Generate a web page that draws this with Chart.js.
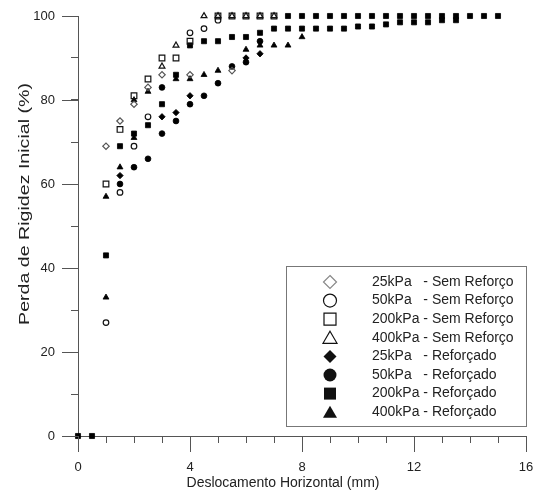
<!DOCTYPE html>
<html>
<head>
<meta charset="utf-8">
<script src="https://cdn.jsdelivr.net/npm/chart.js@4.4.0/dist/chart.umd.min.js"></script>
<style>
    html, body { margin: 0; padding: 0; background: #fff; }
</style>
</head>
<body>
<canvas id="chart" width="537" height="494"></canvas>
<script>
// values: [deslocamento (mm), perda de rigidez (%)]
const sr25 = [[1, 69], [1.5, 75], [2, 79], [2.5, 83], [3, 86], [4, 86], [5.5, 87]];
const sr50 = [[1, 27], [1.5, 58], [2, 69], [2.5, 76], [4, 96], [4.5, 97], [5, 99]];
const sr200 = [[1, 60], [1.5, 73], [2, 81], [2.5, 85], [3, 90], [3.5, 90], [4, 94],
    [5, 100], [5.5, 100], [6, 100], [6.5, 100], [7, 100]];
const sr400 = [[3, 88], [3.5, 93], [4.5, 100], [5, 100], [5.5, 100], [6, 100], [6.5, 100], [7, 100]];
const r25 = [[1.5, 62], [3, 76], [3.5, 77], [4, 81], [6, 90], [6.5, 91]];
const r50 = [[1.5, 60], [2, 64], [2.5, 66], [3, 72], [3, 83], [3.5, 75], [4, 79], [4.5, 81],
    [5, 84], [5.5, 88], [6, 89], [6.5, 94]];
const r200 = [[0, 0], [0.5, 0], [1, 43], [1.5, 69], [2, 72], [2.5, 74], [3, 79], [3.5, 86],
    [4, 93], [4.5, 94], [5, 94], [5.5, 95], [6, 95], [6.5, 96], [7, 97], [7.5, 97], [8, 97],
    [8.5, 97], [9, 97], [9.5, 97], [10, 97.5], [10.5, 97.5], [11, 98], [11.5, 98.5], [12, 98.5],
    [12.5, 98.5], [13, 99], [13.5, 99]];
const r200Top = [[7.5, 100], [8, 100], [8.5, 100], [9, 100], [9.5, 100], [10, 100], [10.5, 100],
    [11, 100], [11.5, 100], [12, 100], [12.5, 100], [13, 100], [13.5, 100], [14, 100],
    [14.5, 100], [15, 100]];
const r400 = [[1, 57], [1, 33], [1.5, 64], [2, 71], [2, 80], [2.5, 82], [3.5, 85], [4, 85],
    [4.5, 86], [5, 87], [6, 92], [6.5, 93], [7, 93], [7.5, 93], [8, 95]];

const labels = [
    "25kPa   - Sem Reforço",
    "50kPa   - Sem Reforço",
    "200kPa - Sem Reforço",
    "400kPa - Sem Reforço",
    "25kPa   - Reforçado",
    "50kPa   - Reforçado",
    "200kPa - Reforçado",
    "400kPa - Reforçado",
];
const xTitle = "Deslocamento Horizontal (mm)";
const yTitle = "Perda de Rigidez Inicial (%)";

const FONT = "'Liberation Sans', Arial, sans-serif";

function pts(list) {
    return list.map((p) => ({ x: p[0], y: p[1] }));
}

function series(label, data, style, filled, radius, color) {
    return {
        label: label,
        data: pts(data),
        showLine: false,
        clip: false,
        pointStyle: style,
        pointRadius: radius,
        pointHoverRadius: radius,
        pointBackgroundColor: filled ? color : "rgba(0,0,0,0)",
        pointBorderColor: color,
        pointBorderWidth: filled ? 0.8 : 1.2,
        filled: filled,
    };
}

const datasets = [
    series(labels[0], sr25, "rectRot", false, 3.2, "#555"),
    series(labels[1], sr50, "circle", false, 2.8, "#111"),
    series(labels[2], sr200, "rect", false, 4, "#111"),
    series(labels[3], sr400, "triangle", false, 3.4, "#111"),
    series(labels[4], r25, "rectRot", true, 3.2, "#000"),
    series(labels[5], r50, "circle", true, 2.9, "#000"),
    series(labels[6], r200.concat(r200Top), "rect", true, 3.6, "#000"),
    series(labels[7], r400, "triangle", true, 3.4, "#000"),
];

// legend marker, drawn by hand inside the box
function drawMark(ctx, style, x, y, filled, color) {
    ctx.beginPath();
    if (style === "rect") {
        ctx.rect(x - 6, y - 6, 12, 12);
    } else if (style === "circle") {
        ctx.arc(x, y, 6.5, 0, Math.PI * 2);
    } else if (style === "rectRot") {
        ctx.moveTo(x, y - 6.5);
        ctx.lineTo(x + 6.5, y);
        ctx.lineTo(x, y + 6.5);
        ctx.lineTo(x - 6.5, y);
        ctx.closePath();
    } else {
        ctx.moveTo(x, y - 6.5);
        ctx.lineTo(x + 7, y + 5.5);
        ctx.lineTo(x - 7, y + 5.5);
        ctx.closePath();
    }
    if (filled) {
        ctx.fillStyle = color;
        ctx.fill();
    } else {
        ctx.strokeStyle = style === "rectRot" ? "#888" : color;
        ctx.lineWidth = 1.2;
        ctx.stroke();
    }
}

const boxLegend = {
    id: "boxLegend",
    afterDraw(chart) {
        const ctx = chart.ctx;
        ctx.save();
        ctx.strokeStyle = "#777";
        ctx.lineWidth = 1;
        ctx.strokeRect(286.5, 266.5, 240, 160);
        ctx.font = "14px " + FONT;
        ctx.textBaseline = "middle";
        ctx.textAlign = "left";
        chart.data.datasets.forEach((ds, i) => {
            const y = 282 + i * 18.6;
            drawMark(ctx, ds.pointStyle, 330, y, ds.filled, "#111");
            ctx.fillStyle = "#222";
            ctx.fillText(ds.label, 372, y);
        });
        ctx.restore();
    },
};

// long major ticks and the axis titles
const axisExtras = {
    id: "axisExtras",
    afterDraw(chart) {
        const ctx = chart.ctx;
        const xs = chart.scales.x;
        const ys = chart.scales.y;
        const bottom = chart.chartArea.bottom;
        const left = chart.chartArea.left;
        ctx.save();
        ctx.strokeStyle = "#555";
        ctx.lineWidth = 1;
        ctx.beginPath();
        [0, 4, 8, 12, 16].forEach((v) => {
            const px = Math.round(xs.getPixelForValue(v)) + 0.5;
            ctx.moveTo(px, bottom);
            ctx.lineTo(px, bottom + 16);
        });
        [0, 20, 40, 60, 80, 100].forEach((v) => {
            const py = Math.round(ys.getPixelForValue(v)) + 0.5;
            ctx.moveTo(left - 16, py);
            ctx.lineTo(left, py);
        });
        ctx.stroke();

        ctx.fillStyle = "#222";
        ctx.font = "14px " + FONT;
        ctx.textAlign = "center";
        ctx.textBaseline = "middle";
        ctx.fillText(xTitle, 283, 483);

        ctx.translate(25, 204);
        ctx.rotate(-Math.PI / 2);
        ctx.scale(1.4, 1);
        ctx.fillText(yTitle, 0, 0);
        ctx.restore();
    },
};

const ctx = document.getElementById("chart").getContext("2d");
new Chart(ctx, {
    type: "scatter",
    data: { datasets: datasets },
    options: {
        responsive: false,
        animation: false,
        devicePixelRatio: 1,
        layout: { padding: { top: 16, right: 11, left: 0, bottom: 0 } },
        plugins: {
            legend: { display: false },
            tooltip: { enabled: false },
        },
        scales: {
            x: {
                type: "linear",
                min: 0,
                max: 16,
                ticks: {
                    stepSize: 1,
                    autoSkip: false,
                    maxRotation: 0,
                    padding: 17,
                    color: "#222",
                    font: { family: FONT, size: 13 },
                    callback: (v) => (v % 4 === 0 ? v : ""),
                },
                grid: { drawOnChartArea: false, tickLength: 7, color: "#555" },
                border: { color: "#555", width: 1 },
                afterFit: (scale) => {
                    scale.height = 58;
                    scale.paddingLeft = 0;
                    scale.paddingRight = 0;
                },
            },
            y: {
                type: "linear",
                min: 0,
                max: 100,
                ticks: {
                    stepSize: 10,
                    autoSkip: false,
                    padding: 16,
                    color: "#222",
                    font: { family: FONT, size: 13 },
                    callback: (v) => (v % 20 === 0 ? v : ""),
                },
                grid: { drawOnChartArea: false, tickLength: 7, color: "#555" },
                border: { color: "#555", width: 1 },
                afterFit: (scale) => {
                    scale.width = 78;
                    scale.paddingTop = 0;
                    scale.paddingBottom = 0;
                },
            },
        },
    },
    plugins: [boxLegend, axisExtras],
});
</script>
</body>
</html>
